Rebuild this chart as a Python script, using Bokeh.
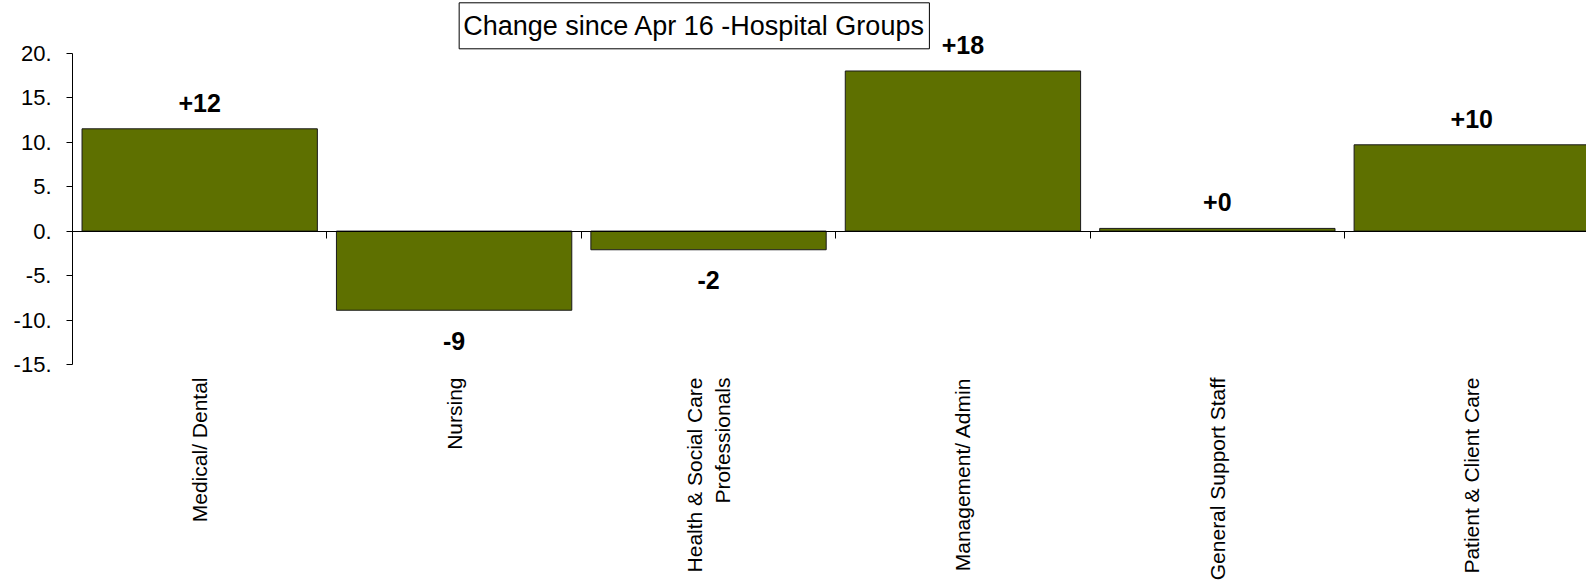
import math
from bokeh.plotting import figure
from bokeh.models import (Range1d, FixedTicker, LinearAxis, LabelSet, Label,
                          ColumnDataSource, PrintfTickFormatter)
from bokeh.core.properties import value
from bokeh.embed import file_html
from bokeh.resources import INLINE

# ---- data ----
categories = ["Medical/ Dental", "Nursing", "Health & Social Care\nProfessionals",
              "Management/ Admin", "General Support Staff", "Patient & Client Care"]
values = [11.5, -8.9, -2.1, 18.0, 0.3, 9.7]
value_labels = ["+12", "-9", "-2", "+18", "+0", "+10"]
y_ticks = [-15, -10, -5, 0, 5, 10, 15, 20]
title_text = "Change since Apr 16 -Hospital Groups"

# ---- layout / style ----
FONT = "Liberation Sans"
BAR_COLOR = "#5E7000"
Y_MIN, Y_MAX = -15, 20
Y_TOP = 25.925        # frame extends to the canvas top so labels/title are not clipped
X_END = 5.951         # the chart is cut at the right edge, as in the original
TITLE_X, TITLE_Y = 2.444, 23.08

positions = [i + 0.5 for i in range(len(categories))]
boundaries = list(range(len(categories) + 1))
offsets = [17 if v >= 0 else -39.5 for v in values]

src = ColumnDataSource(dict(x=positions, top=values, lab=value_labels, off=offsets))

p = figure(width=1586, height=588,
           x_range=Range1d(0, X_END), y_range=Range1d(Y_MIN, Y_TOP),
           output_backend="svg", toolbar_location=None,
           min_border_left=72, min_border_top=0, min_border_bottom=224,
           min_border_right=0)
p.xgrid.visible = False
p.ygrid.visible = False
p.outline_line_color = None
p.background_fill_color = "white"
p.border_fill_color = "white"

p.vbar(x="x", top="top", width=0.925, source=src,
       fill_color=BAR_COLOR, line_color="#1a1a1a", line_width=1)

# category axis (labels only)
xa = p.xaxis[0]
xa.ticker = FixedTicker(ticks=positions, minor_ticks=[])
xa.major_label_overrides = {pos: cat for pos, cat in zip(positions, categories)}
xa.major_label_orientation = math.pi / 2
xa.major_label_text_font = FONT
xa.major_label_text_font_size = "21px"
xa.major_label_text_color = "black"
xa.major_label_text_align = "center"
xa.major_label_standoff = 13
xa.axis_line_color = None
xa.major_tick_line_color = None
xa.major_tick_out = 0
xa.major_tick_in = 0
xa.minor_tick_line_color = None

# zero line with category boundary ticks
zero_axis = LinearAxis(fixed_location=0,
                       ticker=FixedTicker(ticks=boundaries, minor_ticks=[]),
                       major_tick_in=7, major_tick_out=0,
                       axis_line_color="black", major_tick_line_color="black",
                       major_label_text_font_size="0px",
                       major_label_text_color=None, major_label_standoff=0,
                       minor_tick_line_color=None)
p.add_layout(zero_axis, "above")

# value axis
ya = p.yaxis[0]
ya.bounds = (Y_MIN, Y_MAX)
ya.ticker = FixedTicker(ticks=y_ticks, minor_ticks=[])
ya.formatter = PrintfTickFormatter(format="%d.")
ya.major_label_text_font = FONT
ya.major_label_text_font_size = "22px"
ya.major_label_text_color = "black"
ya.major_label_standoff = 15
ya.major_tick_out = 6
ya.major_tick_in = 0
ya.minor_tick_line_color = None
ya.axis_line_color = "black"
ya.major_tick_line_color = "black"

labels = LabelSet(x="x", y="top", text="lab", y_offset="off", source=src,
                  text_align="center", text_baseline="alphabetic",
                  text_font=value(FONT), text_font_size=value("25px"),
                  text_font_style="bold", text_color="black")
p.add_layout(labels)

title = Label(x=TITLE_X, y=TITLE_Y, x_units="data", y_units="data", text=title_text,
              text_align="center", text_baseline="middle",
              text_font=FONT, text_font_size="27px", text_color="black",
              border_line_color="black", border_line_width=1,
              background_fill_color="white", padding=(4, 8))
p.add_layout(title)

open("out.html", "w").write(file_html(p, INLINE))
